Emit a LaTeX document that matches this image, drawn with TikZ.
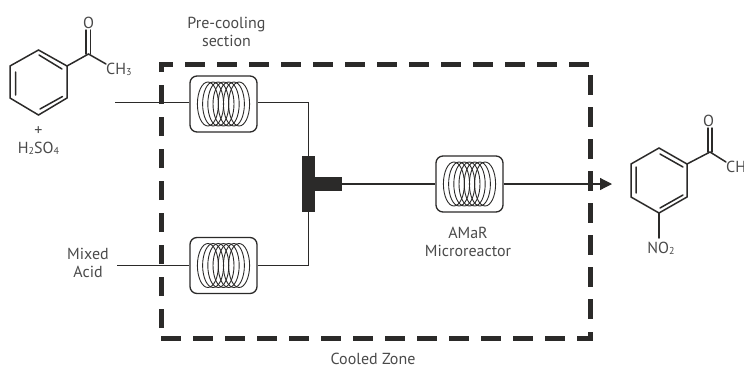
\documentclass[tikz,border=0pt]{standalone}
\usepackage{fontspec}
\setmainfont{PT Sans}
\usetikzlibrary{arrows.meta}
\newcommand{\dn}[1]{\raisebox{-1pt}{\fontsize{10}{10}\selectfont #1}}
\definecolor{ink}{HTML}{2B2A29}
\definecolor{txt}{HTML}{4A4A4A}
\tikzset{
 lbl/.style={font=\fontsize{16}{18}\selectfont,text=txt,align=center,inner sep=0pt},
 coilbox/.style={draw=ink,line width=1.3pt,rounded corners=7pt,minimum width=67pt,minimum height=56pt,inner sep=0pt},
 pipe/.style={draw=ink,line width=1.2pt},
 bond/.style={draw=ink,line width=1.5pt,line cap=round},
 zone/.style={draw=ink,line width=5pt,dash pattern=on 19.5pt off 12.5pt},
 tee/.style={fill=ink,draw=none,inner sep=0pt}
}
\newcommand{\coil}[1]{%
 \foreach \d in {-15.6,-10.4,-5.2,0,5.2,10.4,15.6}
  \draw[ink,line width=0.9pt] ([xshift=\d pt]#1.center) ellipse [x radius=10.5pt,y radius=22pt];}
\begin{document}
\begin{tikzpicture}[x=1pt,y=-1pt]
\useasboundingbox (0,0) rectangle (744,365);
% zone
\draw[zone] (161,328) -- (161,64) -- (590,64);
\draw[zone] (590,75) -- (590,319);
\draw[zone] (161,338) -- (590,338) -- (590,331);
% reactors
\node[coilbox] (r1) at (223.5,104) {};
\node[coilbox] (r2) at (223.5,265.5) {};
\node[coilbox] (r3) at (469.5,184) {};
\coil{r1}\coil{r2}\coil{r3}
% mixer
\node[tee,minimum width=13pt,minimum height=56pt] (tv) at (308.5,184) {};
\node[tee,minimum width=27pt,minimum height=14pt] (th) at (328.5,184) {};
\coordinate (in1) at (115,102.2);
\coordinate (in2) at (117,265.2);
\coordinate (out) at (612,184);
\draw[pipe] (in1) -- (in1 -| r1.west);
\draw[pipe] (in2) -- (in2 -| r2.west);
\draw[pipe] (in1 -| r1.east) -- (in1 -| tv.north) -- (tv.north);
\draw[pipe] (in2 -| r2.east) -- (in2 -| tv.south) -- (tv.south);
\draw[ink,line width=1.7pt] (th.east) -- (r3.west);
\draw[pipe,-{Triangle[length=12pt,width=12pt]}] (r3.east) -- (out);
% labels
\node[lbl] (pc) at (226.5,32) {Pre-cooling\\section};
\node[lbl] (ma) at (88,262.5) {Mixed\\Acid};
\node[lbl] (am) at (468,242) {AMaR\\Microreactor};
\node[lbl,font=\fontsize{16}{11}\selectfont,align=none,anchor=base] (cz) at (373,364) {Cooled Zone};
% acetophenone
\coordinate (a1) at (67,66);\coordinate (a2) at (67,98);\coordinate (a3) at (38.5,115);
\coordinate (a4) at (10,98);\coordinate (a5) at (10,66);\coordinate (a6) at (38.5,50);
\coordinate (ac) at (88.5,54);
\draw[bond] (a1)--(a2)--(a3)--(a4)--(a5)--(a6)--cycle;
\draw[bond] (62.5,96.5)--(40,109) (15.7,95)--(15.7,72) (39,55)--(62,69);
\draw[bond] (a1)--(ac)--(106,64);
\draw[bond] (86.2,54)--(86.2,30) (90.7,54)--(90.7,30);
\node[lbl] (o1) at (88.5,22.7) {O};
\node[lbl,anchor=west] (ch1) at (106,69.5) {CH\dn{3}};
\node[lbl] (pl) at (38.5,131) {+};
\node[lbl] (hs) at (38.5,148) {H\dn{2}SO\dn{4}};
% nitroacetophenone
\coordinate (b1) at (687,164);\coordinate (b2) at (687,197);\coordinate (b3) at (659,213);
\coordinate (b4) at (631,197);\coordinate (b5) at (631,164);\coordinate (b6) at (659,148);
\coordinate (bc) at (710,152);
\draw[bond] (b1)--(b2)--(b3)--(b4)--(b5)--(b6)--cycle;
\draw[bond] (683,195)--(660,208) (636.2,193)--(636.2,167) (660,154)--(683,167);
\draw[bond] (b1)--(bc)--(726,162);
\draw[bond] (707.8,152)--(707.8,128) (712,152)--(712,128);
\draw[bond] (b3)--(659,238);
\node[lbl] (o2) at (708.7,121) {O};
\node[lbl,anchor=west] (ch2) at (726,167) {CH};
\node[lbl] (no) at (661,248) {NO\dn{2}};
\end{tikzpicture}
\end{document}
